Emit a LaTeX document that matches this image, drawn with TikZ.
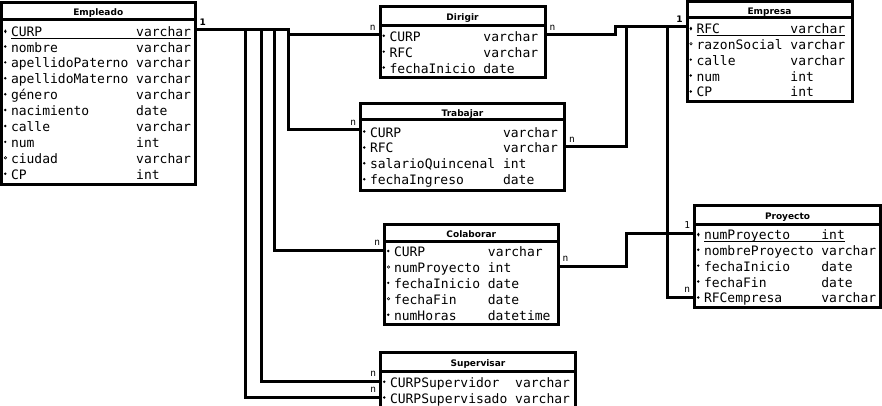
\documentclass[tikz,border=0pt]{standalone}
\usepackage{fontspec}
\newfontfamily\mono{DejaVu Sans Mono}
\newfontfamily\titulo{DejaVu Sans}
\newlength{\cw}
\setlength{\cw}{7.827pt}
% marcas de atributo
\newcommand{\req}{\makebox[9.5pt][l]{\hspace{2.4pt}\raisebox{4.2pt}{\tikz\fill (0pt,0pt) circle (1.35pt);}}}
\newcommand{\opc}{\makebox[9.5pt][l]{\hspace{2.4pt}\raisebox{4pt}{\tikz\draw[line width=0.6pt] (0pt,0pt) circle (1.25pt);}}}
\newcommand{\pk}[1]{\makebox[9.5pt][l]{\hspace{2.6pt}\raisebox{2.8pt}{\tikz\fill (0pt,-2pt) -- (1.3pt,0pt) -- (0pt,2pt) -- (-1.3pt,0pt) -- cycle;}}\rlap{\rule[-2.7pt]{#1\cw}{1pt}}}
\newcommand{\tabla}[2]{\makebox[#1][l]{\raisebox{-2.5pt}[\height][\depth]{\begin{tabular}{@{}l@{\hspace{\cw}}l@{}}#2\end{tabular}}}}
\tikzset{
  cuerpo/.style={draw, line width=3pt, inner sep=0pt, outer sep=0pt, anchor=north west,
    font=\mono\fontsize{13}{15.9}\selectfont},
  cabeza/.style={draw, line width=3pt, inner sep=0pt, outer sep=0pt, anchor=south west,
    text height=9.6pt, text depth=0pt, font=\titulo\bfseries\fontsize{9}{11}\selectfont},
  rel/.style={line width=3pt},
  card/.style={inner sep=4.5pt, outer sep=0pt, font=\mono\fontsize{9.5}{11}\selectfont},
  uno/.style={card, font=\titulo\bfseries\fontsize{9}{11}\selectfont}
}
\begin{document}
\begin{tikzpicture}[x=1pt,y=-1pt]
\fill[white] (0,0) rectangle (882,406);
\useasboundingbox (0,0) rectangle (882,406);

% entidades
\node[cuerpo, minimum height=165pt] (emp) at (1.5,19.5) {\tabla{193.5pt}{
\pk{23}CURP & varchar\\
\req nombre & varchar\\
\req apellidoPaterno & varchar\\
\req apellidoMaterno & varchar\\
\req género & varchar\\
\req nacimiento & date\\
\req calle & varchar\\
\req num & int\\
\opc ciudad & varchar\\
\req CP & int}};
\node[cabeza, minimum width=193.5pt, minimum height=17pt] (emp-t) at (emp.north west) {Empleado};

\node[cuerpo, minimum height=52pt] (dir) at (380,25.5) {\tabla{165pt}{
\req CURP & varchar\\
\req RFC & varchar\\
\req fechaInicio & date}};
\node[cabeza, minimum width=165pt, minimum height=19pt] (dir-t) at (dir.north west) {Dirigir};

\node[cuerpo, minimum height=70.5pt] (trab) at (360.5,120) {\tabla{204pt}{
\req CURP & varchar\\
\req RFC & varchar\\
\req salarioQuincenal & int\\
\req fechaIngreso & date}};
\node[cabeza, minimum width=204pt, minimum height=16pt] (trab-t) at (trab.north west) {Trabajar};

\node[cuerpo, minimum height=84pt] (empr) at (687,17.5) {\tabla{165pt}{
\pk{19}RFC & varchar\\
\opc razonSocial & varchar\\
\req calle & varchar\\
\req num & int\\
\req CP & int}};
\node[cabeza, minimum width=165pt, minimum height=16pt] (empr-t) at (empr.north west) {Empresa};

\node[cuerpo, minimum height=83.5pt] (col) at (384.5,241) {\tabla{173.5pt}{
\req CURP & varchar\\
\opc numProyecto & int\\
\req fechaInicio & date\\
\opc fechaFin & date\\
\req numHoras & datetime}};
\node[cabeza, minimum width=173.5pt, minimum height=17pt] (col-t) at (col.north west) {Colaborar};

\node[cuerpo, minimum height=83pt] (proy) at (694.5,224) {\tabla{186pt}{
\pk{18}numProyecto & int\\
\req nombreProyecto & varchar\\
\req fechaInicio & date\\
\req fechaFin & date\\
\req RFCempresa & varchar}};
\node[cabeza, minimum width=186pt, minimum height=18.5pt] (proy-t) at (proy.north west) {Proyecto};

\node[cuerpo, minimum height=37pt] (sup) at (380.5,371) {\tabla{195pt}{
\req CURPSupervidor & varchar\\
\req CURPSupervisado & varchar}};
\node[cabeza, minimum width=195pt, minimum height=18.5pt] (sup-t) at (sup.north west) {Supervisar};

% relaciones
\draw[rel] ([yshift=-10.5pt]emp.north east) node[uno, above right] {1} -- ++(93,0) |- ([yshift=-9.5pt]dir.north west) node[card, above left] {n};
\draw[rel] ([yshift=-10.5pt]emp.north east) -- ++(93,0) |- ([yshift=-10pt]trab.north west) node[card, above left] {n};
\draw[rel] ([yshift=-10.5pt]emp.north east) -- ++(79,0) |- ([yshift=-9pt]col.north west) node[card, above left] {n};
\draw[rel] ([yshift=-10.5pt]emp.north east) -- ++(66,0) |- ([yshift=-10pt]sup.north west) node[card, above left] {n};
\draw[rel] ([yshift=-10.5pt]emp.north east) -- ++(50,0) |- ([yshift=-26pt]sup.north west) node[card, above left] {n};
\draw[rel] ([yshift=-9.5pt]dir.north east) node[card, above right] {n} -- ++(70,0) |- ([yshift=-9.5pt]empr.north west) node[uno, above left] {1};
\draw[rel] ([yshift=-27pt]trab.north east) node[card, above right] {n} -- ++(61.5,0) |- ([yshift=-9.5pt]empr.north west);
\draw[rel] ([yshift=-73pt]proy.north west) node[card, above left] {n} -- ++(-27.5,0) |- ([yshift=-9.5pt]empr.north west);
\draw[rel] ([yshift=-25pt]col.north east) node[card, above right] {n} -- ++(68,0) |- ([yshift=-9pt]proy.north west) node[card, above left] {1};
\end{tikzpicture}
\end{document}
